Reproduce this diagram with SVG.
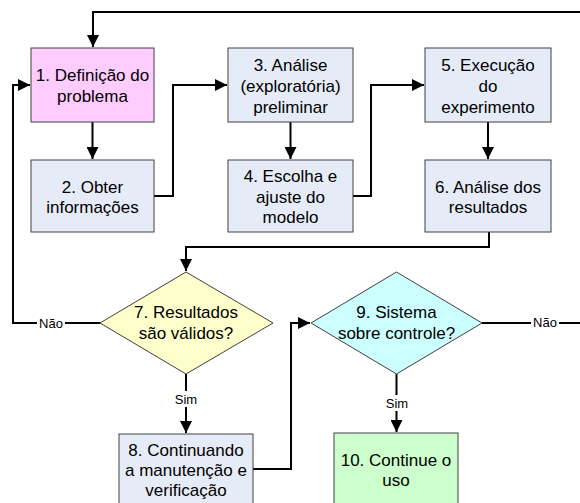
<svg xmlns="http://www.w3.org/2000/svg" width="580" height="503" viewBox="0 0 580 503">
<style>
.box{stroke:#404040;stroke-width:1}
.blue{fill:#E6ECF7}
.t{font-family:"Liberation Sans",Arial,sans-serif;font-size:17px;fill:#000;text-anchor:middle;dominant-baseline:central}
.lbl{font-family:"Liberation Sans",Arial,sans-serif;font-size:13px;fill:#000;text-anchor:middle;dominant-baseline:central}
.c{fill:none;stroke:#000;stroke-width:2}
</style>
<defs>
<marker id="ah" viewBox="0 0 10 10" refX="10" refY="5" markerWidth="6.5" markerHeight="6" orient="auto" markerUnits="strokeWidth">
<path d="M0,0 L10,5 L0,10 Z" fill="#000"/>
</marker>
</defs>
<rect width="580" height="503" fill="#fff"/>
<g id="connectors">
<path class="c" d="M580,12 H93 V47" marker-end="url(#ah)"/>
<path class="c" d="M92.5,122 V159" marker-end="url(#ah)"/>
<path class="c" d="M154,196 H173 V85 H227" marker-end="url(#ah)"/>
<path class="c" d="M290.5,122 V159" marker-end="url(#ah)"/>
<path class="c" d="M353,196 H371 V85 H424" marker-end="url(#ah)"/>
<path class="c" d="M488,122 V159" marker-end="url(#ah)"/>
<path class="c" d="M489,232 V247 H186 V271" marker-end="url(#ah)"/>
<path class="c" d="M100,323 H13 V85 H30" marker-end="url(#ah)"/>
<path class="c" d="M186,374 V433" marker-end="url(#ah)"/>
<path class="c" d="M253,469 H291 V323 H310" marker-end="url(#ah)"/>
<path class="c" d="M396.5,374 V432" marker-end="url(#ah)"/>
<path class="c" d="M482,323 H580"/>
<rect x="37" y="315" width="28" height="15" fill="#fff"/>
<text class="lbl" x="51" y="323">Não</text>
<rect x="531" y="315" width="28" height="15" fill="#fff"/>
<text class="lbl" x="545" y="322">Não</text>
<rect x="172" y="391" width="28" height="16" fill="#fff"/>
<text class="lbl" x="186" y="399">Sim</text>
<rect x="383" y="395" width="28" height="16" fill="#fff"/>
<text class="lbl" x="397" y="403">Sim</text>
</g>
<g id="n1">
<rect class="box" x="31" y="48" width="123" height="74" fill="#FFCCFF"/>
<text class="t" x="92.5" y="75">1. Definição do</text>
<text class="t" x="92.5" y="96">problema</text>
</g>
<g id="n2">
<rect class="box blue" x="31" y="160" width="123" height="72"/>
<text class="t" x="92.5" y="187">2. Obter</text>
<text class="t" x="92.5" y="207">informações</text>
</g>
<g id="n3">
<rect class="box blue" x="228" y="48" width="125" height="74"/>
<text class="t" x="290.5" y="65">3. Análise</text>
<text class="t" x="290.5" y="86">(exploratória)</text>
<text class="t" x="290.5" y="107">preliminar</text>
</g>
<g id="n4">
<rect class="box blue" x="228" y="160" width="125" height="72"/>
<text class="t" x="290.5" y="176">4. Escolha e</text>
<text class="t" x="290.5" y="197">ajuste do</text>
<text class="t" x="290.5" y="217">modelo</text>
</g>
<g id="n5">
<rect class="box blue" x="425" y="48" width="126" height="74"/>
<text class="t" x="488" y="65">5. Execução</text>
<text class="t" x="488" y="86">do</text>
<text class="t" x="488" y="107">experimento</text>
</g>
<g id="n6">
<rect class="box blue" x="425" y="160" width="126" height="72"/>
<text class="t" x="488" y="187">6. Análise dos</text>
<text class="t" x="488" y="207">resultados</text>
</g>
<g id="n7">
<polygon class="box" points="186,272 273,323 186,374 100,323" fill="#FFFFCC"/>
<text class="t" x="186" y="312">7. Resultados</text>
<text class="t" x="186" y="333">são válidos?</text>
</g>
<g id="n9">
<polygon class="box" points="396.5,272 482,323 396.5,374 311,323" fill="#CCFFFF"/>
<text class="t" x="396.5" y="312">9. Sistema</text>
<text class="t" x="396.5" y="333">sobre controle?</text>
</g>
<g id="n8">
<rect class="box blue" x="119" y="434" width="134" height="80"/>
<text class="t" x="186" y="450">8. Continuando</text>
<text class="t" x="186" y="470">a manutenção e</text>
<text class="t" x="186" y="490">verificação</text>
</g>
<g id="n10">
<rect class="box" x="334" y="433" width="124" height="80" fill="#CCFFCC"/>
<text class="t" x="396" y="460">10. Continue o</text>
<text class="t" x="396" y="480">uso</text>
</g>
</svg>
